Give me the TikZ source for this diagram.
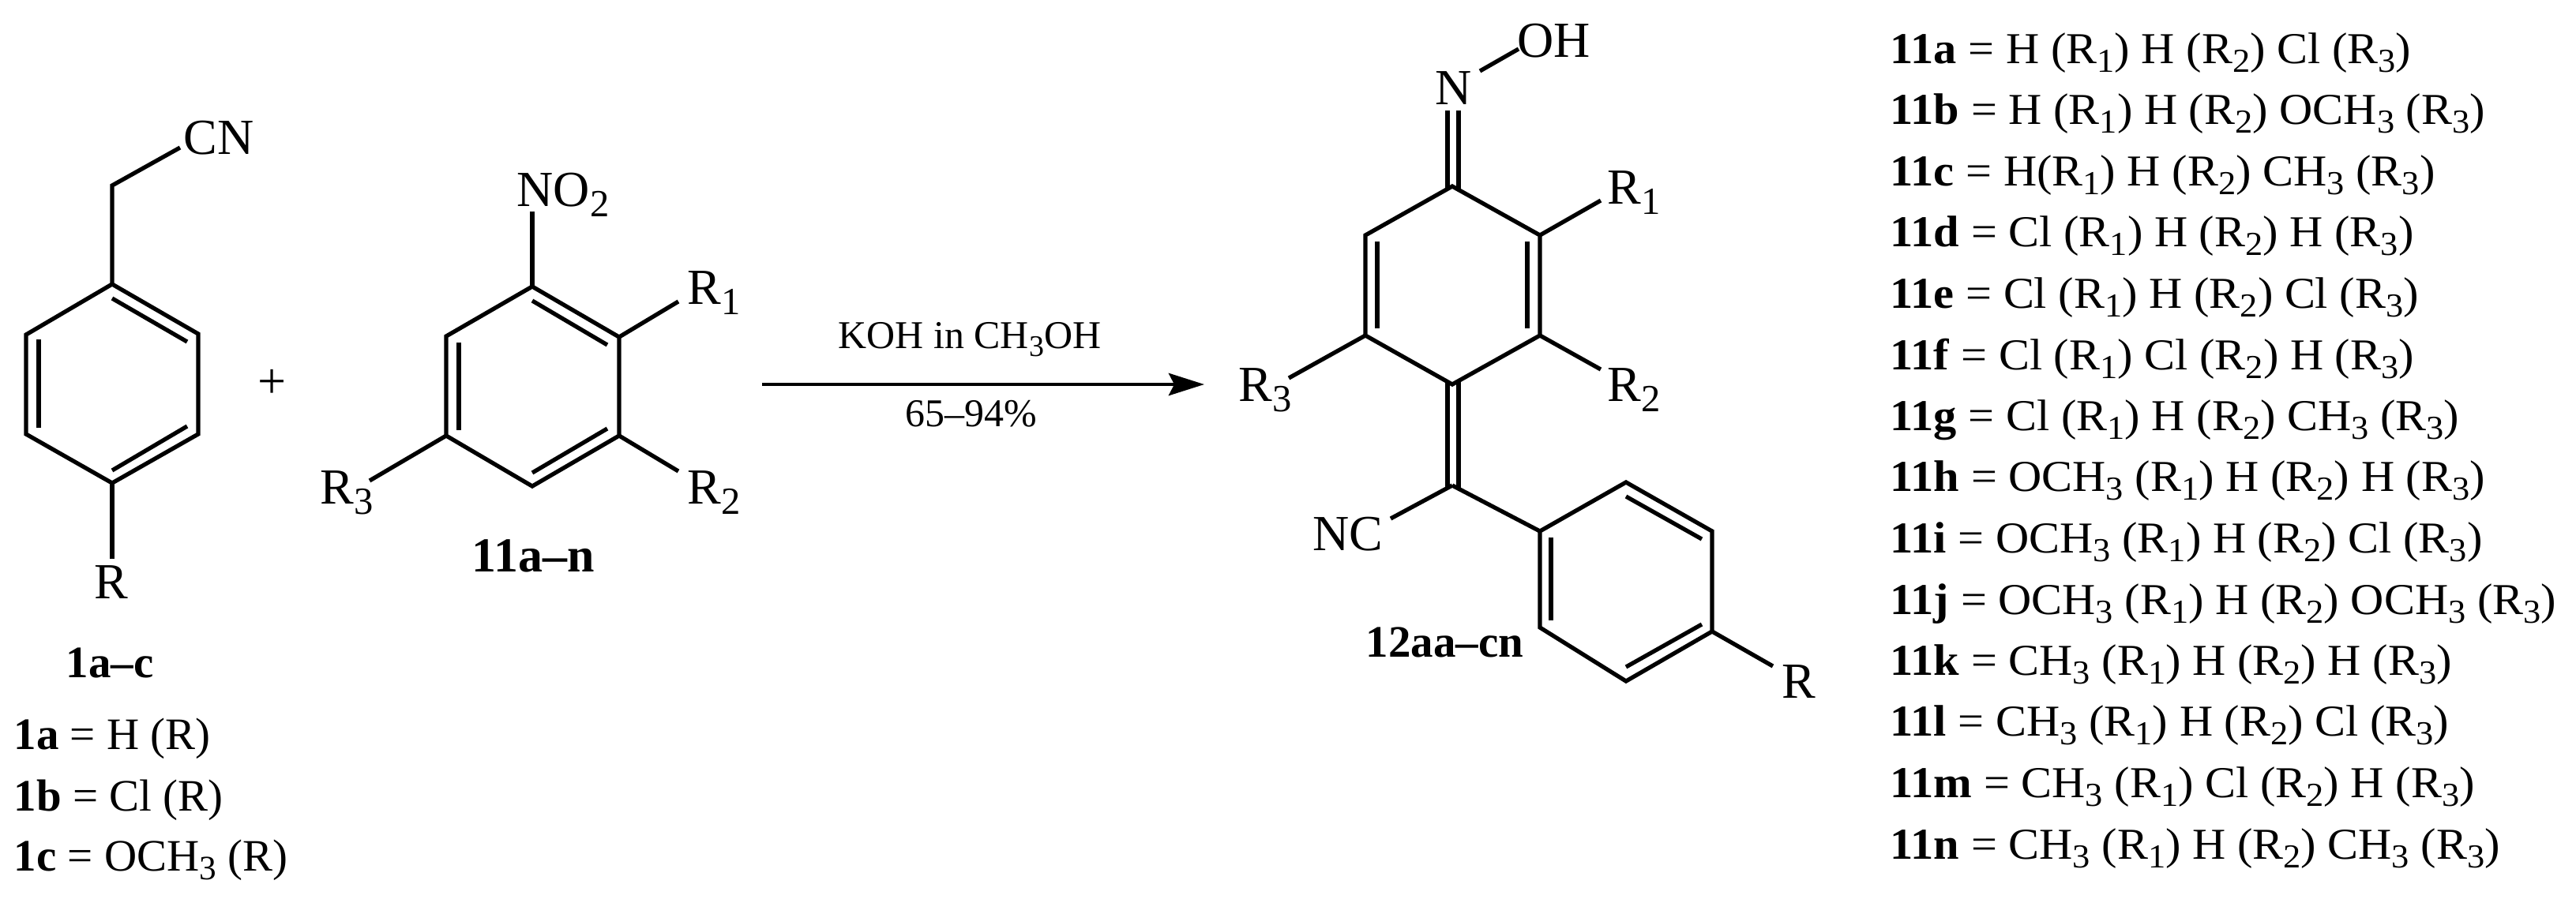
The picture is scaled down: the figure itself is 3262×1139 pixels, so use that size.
\documentclass[tikz,border=0pt]{standalone}
\usepackage{fontspec}
\setmainfont{Liberation Serif}
\usetikzlibrary{arrows.meta}
\newcommand{\subs}[1]{\raisebox{-0.45ex}{\scalebox{0.76}{#1}}}
\newcommand{\Rone}{R\subs{1}}
\newcommand{\Rtwo}{R\subs{2}}
\newcommand{\Rthree}{R\subs{3}}
\newcommand{\CHthree}{CH\subs{3}}

\begin{document}
\begin{tikzpicture}[
x=0.01cm,y=-0.01cm,
MyBonds/.style={draw=black,line width=1.5pt,line join=miter},
MyAtoms/.style={anchor=base west,inner sep=0pt,font=\fontsize{18.2pt}{22pt}\selectfont},
MyTags/.style={anchor=base west,inner sep=0pt,font=\fontsize{16.2pt}{20pt}\selectfont\bfseries},
MyRows/.style={anchor=base west,inner sep=0pt,xscale=1.045,font=\fontsize{15.9pt}{19pt}\selectfont},
MyCond/.style={anchor=base west,inner sep=0pt,font=\fontsize{14.2pt}{17pt}\selectfont}
]
\useasboundingbox (0,0) rectangle (3262,1139);

% benzyl cyanide
\coordinate (A1) at (142,360);
\coordinate (A2) at (251,423);
\coordinate (A3) at (251,550);
\coordinate (A4) at (142,612);
\coordinate (A5) at (33,550);
\coordinate (A6) at (33,424);
\coordinate (Ach) at (142,235);
\coordinate (Acn) at (228,187);
\coordinate (Ar) at (142,708);
\draw[MyBonds] (A1)--(A2)--(A3)--(A4)--(A5)--(A6)--cycle;
\draw[MyBonds] (Acn)--(Ach)--(A1);
\draw[MyBonds] (A4)--(Ar);
\coordinate (Aa) at (142,378);
\coordinate (Ab) at (237,433);
\coordinate (Ac) at (237,540);
\coordinate (Ad) at (142,596);
\coordinate (Ae) at (49,430);
\coordinate (Af) at (49,542);
\draw[MyBonds] (Aa)--(Ab);
\draw[MyBonds] (Ac)--(Ad);
\draw[MyBonds] (Ae)--(Af);
\node[MyAtoms] (nCN) at (232,195) {CN};
\node[MyAtoms] (nRa) at (119,758) {R};

\node[MyTags] (nTagA) at (83,858) {1a–c};
\node[MyTags] (nRowAa) at (17,949) {1a {\mdseries = H (R)}};
\node[MyTags] (nRowAb) at (17,1027) {1b {\mdseries = Cl (R)}};
\node[MyTags] (nRowAc) at (17,1103) {1c {\mdseries = OCH\subs{3} (R)}};

% plus
\node[MyAtoms] (nPlus) at (326,504) {+};

% nitroarene
\coordinate (B1) at (674,363);
\coordinate (B2) at (784,427);
\coordinate (B3) at (784,552);
\coordinate (B4) at (674,616);
\coordinate (B5) at (565,552);
\coordinate (B6) at (565,426);
\coordinate (Bno) at (674,268);
\coordinate (Bra) at (859,382);
\coordinate (Brb) at (859,597);
\coordinate (Brc) at (468,609);
\draw[MyBonds] (B1)--(B2)--(B3)--(B4)--(B5)--(B6)--cycle;
\draw[MyBonds] (B1)--(Bno);
\draw[MyBonds] (B2)--(Bra);
\draw[MyBonds] (B3)--(Brb);
\draw[MyBonds] (B5)--(Brc);
\coordinate (Ba) at (674,381);
\coordinate (Bb) at (769,437);
\coordinate (Bc) at (769,543);
\coordinate (Bd) at (674,599);
\coordinate (Be) at (581,434);
\coordinate (Bf) at (581,545);
\draw[MyBonds] (Ba)--(Bb);
\draw[MyBonds] (Bc)--(Bd);
\draw[MyBonds] (Be)--(Bf);
\node[MyAtoms] (nNO) at (654,261) {NO\subs{2}};
\node[MyAtoms] (nRb) at (870,385) {\Rone};
\node[MyAtoms] (nRc) at (870,638) {\Rtwo};
\node[MyAtoms] (nRd) at (405,638) {\Rthree};
\node[MyTags,font=\fontsize{17.6pt}{20pt}\selectfont\bfseries] (nTagB) at (597,724) {11a–n};

% arrow
\coordinate (Start) at (965,487);
\coordinate (End) at (1525,487);
\draw[-{Stealth[length=12.8pt,width=8pt,inset=2pt]},line width=1.4pt] (Start)--(End);
\node[MyCond] (nAbove) at (1061,441) {KOH in \CHthree OH};
\node[MyCond] (nBelow) at (1146,540) {65–94\%};

% oxime
\coordinate (C1) at (1839,236);
\coordinate (C2) at (1950,298);
\coordinate (C3) at (1950,425);
\coordinate (C4) at (1839,487);
\coordinate (C5) at (1729,425);
\coordinate (C6) at (1729,298);
\draw[MyBonds] (C1)--(C2)--(C3)--(C4)--(C5)--(C6)--cycle;
\coordinate (Ca) at (1744,306);
\coordinate (Cb) at (1744,416);
\coordinate (Cc) at (1934,306);
\coordinate (Cd) at (1934,416);
\draw[MyBonds] (Ca)--(Cb);
\draw[MyBonds] (Cc)--(Cd);
\coordinate (Nl) at (1833,140);
\coordinate (Nr) at (1847,140);
\coordinate (Nlb) at (1833,240);
\coordinate (Nrb) at (1847,240);
\draw[MyBonds] (Nl)--(Nlb);
\draw[MyBonds] (Nr)--(Nrb);
\coordinate (Oa) at (1874,90);
\coordinate (Ob) at (1923,62);
\draw[MyBonds] (Oa)--(Ob);
\coordinate (Cra) at (2027,254);
\coordinate (Crb) at (2027,468);
\coordinate (Crc) at (1632,479);
\draw[MyBonds] (C2)--(Cra);
\draw[MyBonds] (C3)--(Crb);
\draw[MyBonds] (C5)--(Crc);
\node[MyAtoms] (nN) at (1817,132) {N};
\node[MyAtoms] (nOH) at (1921,72) {OH};
\node[MyAtoms] (nRe) at (2035,258) {\Rone};
\node[MyAtoms] (nRf) at (2035,508) {\Rtwo};
\node[MyAtoms] (nRg) at (1568,508) {\Rthree};

% exocyclic part
\coordinate (Dl) at (1833,484);
\coordinate (Dr) at (1847,484);
\coordinate (Dlb) at (1833,618);
\coordinate (Drb) at (1847,618);
\draw[MyBonds] (Dl)--(Dlb);
\draw[MyBonds] (Dr)--(Drb);
\coordinate (D) at (1839,615);
\coordinate (Dnc) at (1761,657);
\draw[MyBonds] (Dnc)--(D);
\node[MyAtoms] (nNC) at (1662,697) {NC};

% para ring
\coordinate (E1) at (1950,673);
\coordinate (E2) at (2059,611);
\coordinate (E3) at (2168,673);
\coordinate (E4) at (2168,800);
\coordinate (E5) at (2059,863);
\coordinate (E6) at (1950,795);
\draw[MyBonds] (D)--(E1);
\draw[MyBonds] (E1)--(E2)--(E3)--(E4)--(E5)--(E6)--cycle;
\coordinate (Ea) at (1964,681);
\coordinate (Eb) at (1964,786);
\coordinate (Ec) at (2059,629);
\coordinate (Ed) at (2155,683);
\coordinate (Ee) at (2059,845);
\coordinate (Ef) at (2155,791);
\draw[MyBonds] (Ea)--(Eb);
\draw[MyBonds] (Ec)--(Ed);
\draw[MyBonds] (Ee)--(Ef);
\coordinate (Er) at (2245,844);
\draw[MyBonds] (E4)--(Er);
\node[MyAtoms] (nRh) at (2256,884) {R};
\node[MyTags] (nTagC) at (1729,832) {12aa–cn};

% substituent table
\node[MyRows] (nRowa) at (2393,80) {\textbf{11a} = H (\Rone) H (\Rtwo) Cl (\Rthree)};
\node[MyRows] (nRowb) at (2393,157) {\textbf{11b} = H (\Rone) H (\Rtwo) OCH\subs{3} (\Rthree)};
\node[MyRows] (nRowc) at (2393,235) {\textbf{11c} = H(\Rone) H (\Rtwo) \CHthree{} (\Rthree)};
\node[MyRows] (nRowd) at (2393,312) {\textbf{11d} = Cl (\Rone) H (\Rtwo) H (\Rthree)};
\node[MyRows] (nRowe) at (2393,390) {\textbf{11e} = Cl (\Rone) H (\Rtwo) Cl (\Rthree)};
\node[MyRows] (nRowf) at (2393,468) {\textbf{11f} = Cl (\Rone) Cl (\Rtwo) H (\Rthree)};
\node[MyRows] (nRowg) at (2393,545) {\textbf{11g} = Cl (\Rone) H (\Rtwo) \CHthree{} (\Rthree)};
\node[MyRows] (nRowh) at (2393,622) {\textbf{11h} = OCH\subs{3} (\Rone) H (\Rtwo) H (\Rthree)};
\node[MyRows] (nRowi) at (2393,700) {\textbf{11i} = OCH\subs{3} (\Rone) H (\Rtwo) Cl (\Rthree)};
\node[MyRows] (nRowj) at (2393,778) {\textbf{11j} = OCH\subs{3} (\Rone) H (\Rtwo) OCH\subs{3} (\Rthree)};
\node[MyRows] (nRowk) at (2393,855) {\textbf{11k} = \CHthree{} (\Rone) H (\Rtwo) H (\Rthree)};
\node[MyRows] (nRowl) at (2393,932) {\textbf{11l} = \CHthree{} (\Rone) H (\Rtwo) Cl (\Rthree)};
\node[MyRows] (nRowm) at (2393,1010) {\textbf{11m} = \CHthree{} (\Rone) Cl (\Rtwo) H (\Rthree)};
\node[MyRows] (nRown) at (2393,1088) {\textbf{11n} = \CHthree{} (\Rone) H (\Rtwo) \CHthree{} (\Rthree)};

\end{tikzpicture}
\end{document}
